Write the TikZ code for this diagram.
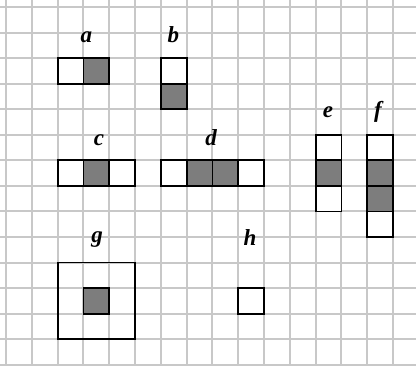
\documentclass[tikz,border=0pt]{standalone}
\usepackage{fontspec}
\setmainfont{Liberation Serif}
\definecolor{gridgray}{RGB}{200,200,200}
\definecolor{cellgray}{RGB}{125,125,125}
\begin{document}
\begin{tikzpicture}[x={(25.8pt,0pt)},y={(0pt,-25.55pt)},
  gridline/.style={draw=gridgray,line width=2pt},
  cellw/.style={draw=black,line width=1.8pt,fill=white},
  cellg/.style={draw=black,line width=1.8pt,fill=cellgray},
  frame/.style={draw=black,line width=1.8pt},
  lbl/.style={anchor=base,inner sep=0pt,font=\fontsize{23}{23}\selectfont\bfseries\itshape}]
\useasboundingbox[fill=white] (-0.2326,-0.274) rectangle (15.891,14.012);
% grid
\foreach \i in {0,...,15} \draw[gridline] (\i,-0.274) -- (\i,14.012);
\foreach \j in {0,...,14} \draw[gridline] (-0.2326,\j) -- (15.891,\j);
% a
\draw[cellw] (2,2) rectangle (3,3);
\draw[cellg] (3,2) rectangle (4,3);
\node[lbl] (la) at (3.12,1.37) {a};
% b
\draw[cellw] (6,2) rectangle (7,3);
\draw[cellg] (6,3) rectangle (7,4);
\node[lbl] (lb) at (6.49,1.37) {b};
% c
\draw[cellw] (2,6) rectangle (3,7);
\draw[cellg] (3,6) rectangle (4,7);
\draw[cellw] (4,6) rectangle (5,7);
\node[lbl] (lc) at (3.6,5.44) {c};
% d
\draw[cellw] (6,6) rectangle (7,7);
\draw[cellg] (7,6) rectangle (8,7);
\draw[cellg] (8,6) rectangle (9,7);
\draw[cellw] (9,6) rectangle (10,7);
\node[lbl] (ld) at (7.95,5.44) {d};
% e
\draw[cellw] (12,5) rectangle (13,6);
\draw[cellg] (12,6) rectangle (13,7);
\draw[cellw] (12,7) rectangle (13,8);
\node[lbl] (le) at (12.48,4.34) {e};
% f
\draw[cellw] (14,5) rectangle (15,6);
\draw[cellg] (14,6) rectangle (15,7);
\draw[cellg] (14,7) rectangle (15,8);
\draw[cellw] (14,8) rectangle (15,9);
\node[lbl] (lf) at (14.42,4.34) {f};
% g
\draw[frame] (2,10) rectangle (5,13);
\draw[cellg] (3,11) rectangle (4,12);
\node[lbl] (lg) at (3.53,9.2) {g};
% h
\draw[frame] (9,11) rectangle (10,12);
\node[lbl] (lh) at (9.46,9.35) {h};
\end{tikzpicture}
\end{document}
